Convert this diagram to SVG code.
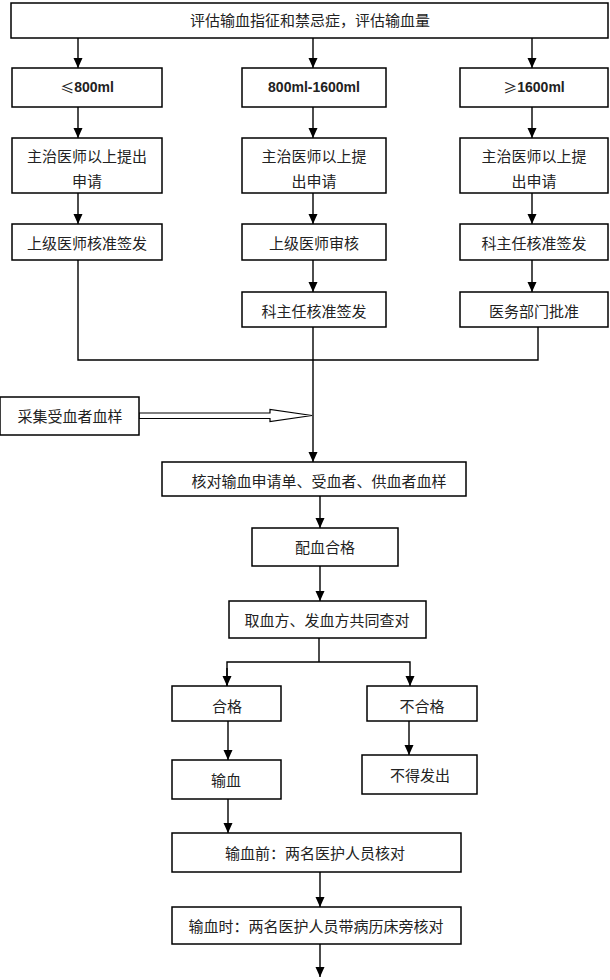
<svg xmlns="http://www.w3.org/2000/svg" width="610" height="980" viewBox="0 0 610 980">
<style>
.box{fill:#fff;stroke:#000;stroke-width:1.5}
.t{font-family:"Noto Sans CJK SC","Liberation Serif",serif;font-size:15px;fill:#222;text-anchor:middle;dominant-baseline:central}
.n{font-family:"Liberation Sans","Noto Sans CJK SC",sans-serif;font-size:14px;font-weight:bold;fill:#222;text-anchor:middle;dominant-baseline:central}
.s{font-family:"Noto Sans CJK SC",sans-serif;font-weight:normal}
.c{fill:none;stroke:#000;stroke-width:1.4}
</style>
<defs>
<marker id="ah" markerUnits="userSpaceOnUse" markerWidth="10" markerHeight="12" viewBox="0 0 10 12" refX="10" refY="6" orient="auto">
<path d="M0,1.5 L10,6 L0,10.5 z" fill="#000"/>
</marker>
</defs>
<rect width="610" height="980" fill="#fff"/>
<g id="connectors">
<line class="c" x1="78" y1="38" x2="78" y2="68" marker-end="url(#ah)"/>
<line class="c" x1="313" y1="38" x2="313" y2="68" marker-end="url(#ah)"/>
<line class="c" x1="532" y1="38" x2="532" y2="68" marker-end="url(#ah)"/>
<line class="c" x1="78" y1="107" x2="78" y2="138" marker-end="url(#ah)"/>
<line class="c" x1="313" y1="107" x2="313" y2="138" marker-end="url(#ah)"/>
<line class="c" x1="532" y1="107" x2="532" y2="138" marker-end="url(#ah)"/>
<line class="c" x1="78" y1="193" x2="78" y2="224" marker-end="url(#ah)"/>
<line class="c" x1="313" y1="193" x2="313" y2="224" marker-end="url(#ah)"/>
<line class="c" x1="532" y1="193" x2="532" y2="224" marker-end="url(#ah)"/>
<line class="c" x1="313" y1="260" x2="313" y2="292" marker-end="url(#ah)"/>
<line class="c" x1="532" y1="260" x2="532" y2="292" marker-end="url(#ah)"/>
<polyline class="c" points="78,260 78,360 538,360 538,327"/>
<line class="c" x1="313" y1="327" x2="313" y2="462" marker-end="url(#ah)"/>
<path d="M139,413 L270,413 L270,409.5 L312,415.5 L270,421.5 L270,418.5 L139,418.5 Z" fill="#fff" stroke="#000" stroke-width="1.2"/>
<line class="c" x1="320" y1="496" x2="320" y2="528" marker-end="url(#ah)"/>
<line class="c" x1="320" y1="566" x2="320" y2="601" marker-end="url(#ah)"/>
<polyline class="c" points="319,638 319,662"/>
<polyline class="c" points="227,686 227,662 410,662 410,686" marker-end="url(#ah)"/>
<line class="c" x1="227" y1="668" x2="227" y2="686" marker-end="url(#ah)"/>
<line class="c" x1="228" y1="721" x2="228" y2="760" marker-end="url(#ah)"/>
<line class="c" x1="409" y1="721" x2="409" y2="755" marker-end="url(#ah)"/>
<line class="c" x1="228" y1="799" x2="228" y2="833" marker-end="url(#ah)"/>
<line class="c" x1="320" y1="872" x2="320" y2="907" marker-end="url(#ah)"/>
<line class="c" x1="320" y1="944" x2="320" y2="977" marker-end="url(#ah)"/>
</g>
<g id="n-top"><rect class="box" x="11" y="3" width="597" height="35"/><text class="t" x="310" y="19">评估输血指征和禁忌症，评估输血量</text></g>
<g id="n-le800"><rect class="box" x="12" y="68" width="150" height="39"/><text class="n" x="87" y="87"><tspan class="s">≤</tspan>800ml</text></g>
<g id="n-800-1600"><rect class="box" x="242" y="68" width="144" height="39"/><text class="n" x="314" y="87">800ml-1600ml</text></g>
<g id="n-ge1600"><rect class="box" x="460" y="68" width="148" height="39"/><text class="n" x="534" y="87"><tspan class="s">≥</tspan>1600ml</text></g>
<g id="n-apply1"><rect class="box" x="12" y="138" width="150" height="55"/><text class="t" x="87" y="155">主治医师以上提出</text><text class="t" x="87" y="180">申请</text></g>
<g id="n-apply2"><rect class="box" x="242" y="138" width="144" height="55"/><text class="t" x="314" y="155">主治医师以上提</text><text class="t" x="314" y="180">出申请</text></g>
<g id="n-apply3"><rect class="box" x="460" y="138" width="148" height="55"/><text class="t" x="534" y="155">主治医师以上提</text><text class="t" x="534" y="180">出申请</text></g>
<g id="n-sign1"><rect class="box" x="12" y="224" width="150" height="36"/><text class="t" x="87" y="242">上级医师核准签发</text></g>
<g id="n-review2"><rect class="box" x="242" y="224" width="144" height="36"/><text class="t" x="314" y="242">上级医师审核</text></g>
<g id="n-sign3"><rect class="box" x="460" y="224" width="148" height="36"/><text class="t" x="534" y="242">科主任核准签发</text></g>
<g id="n-sign2"><rect class="box" x="242" y="292" width="144" height="35"/><text class="t" x="314" y="310">科主任核准签发</text></g>
<g id="n-approve3"><rect class="box" x="460" y="292" width="148" height="35"/><text class="t" x="534" y="310">医务部门批准</text></g>
<g id="n-sample"><rect class="box" x="0" y="397" width="139" height="38"/><text class="t" x="70" y="415">采集受血者血样</text></g>
<g id="n-check"><rect class="box" x="162" y="462" width="304" height="34"/><text class="t" x="319" y="480">核对输血申请单、受血者、供血者血样</text></g>
<g id="n-match"><rect class="box" x="252" y="528" width="146" height="38"/><text class="t" x="325" y="546">配血合格</text></g>
<g id="n-joint"><rect class="box" x="229" y="601" width="197" height="37"/><text class="t" x="327" y="619">取血方、发血方共同查对</text></g>
<g id="n-ok"><rect class="box" x="172" y="686" width="109" height="35"/><text class="t" x="227" y="705">合格</text></g>
<g id="n-notok"><rect class="box" x="367" y="686" width="110" height="35"/><text class="t" x="422" y="705">不合格</text></g>
<g id="n-transfuse"><rect class="box" x="172" y="760" width="109" height="39"/><text class="t" x="226" y="779">输血</text></g>
<g id="n-noissue"><rect class="box" x="362" y="755" width="115" height="39"/><text class="t" x="420" y="774">不得发出</text></g>
<g id="n-before"><rect class="box" x="172" y="833" width="289" height="39"/><text class="t" x="315" y="852">输血前：两名医护人员核对</text></g>
<g id="n-during"><rect class="box" x="172" y="907" width="289" height="37"/><text class="t" x="316" y="925">输血时：两名医护人员带病历床旁核对</text></g>
</svg>
